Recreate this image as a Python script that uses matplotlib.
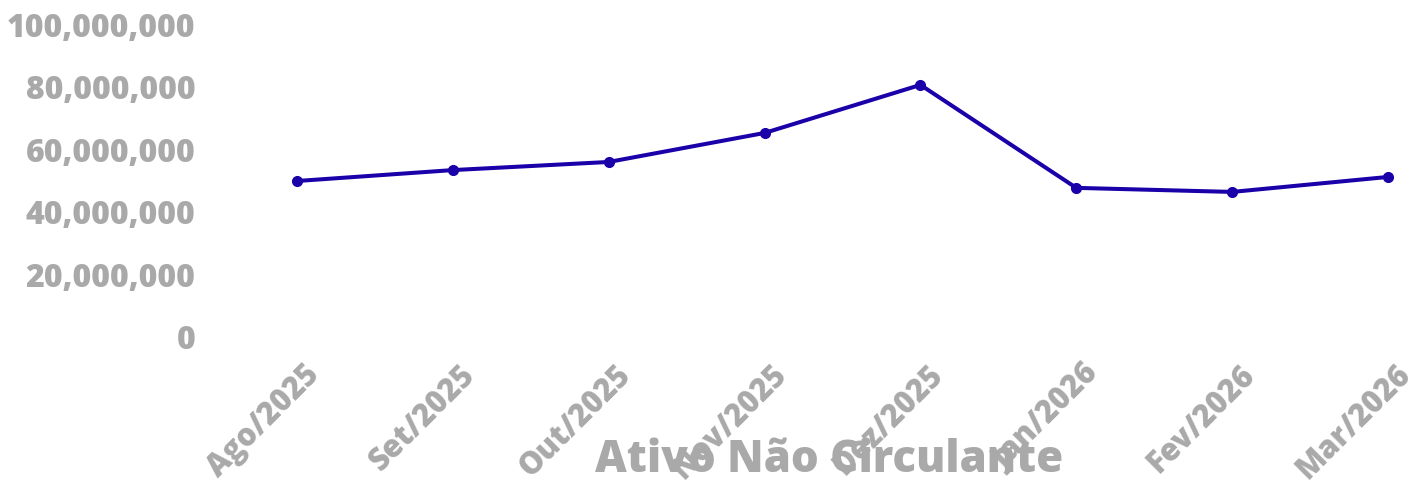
import matplotlib
matplotlib.use("Agg")
import matplotlib.pyplot as plt
import matplotlib.transforms as mtransforms
from matplotlib.ticker import FuncFormatter

MONTHS = ["Ago/2025", "Set/2025", "Out/2025", "Nov/2025",
          "Dez/2025", "Jan/2026", "Fev/2026", "Mar/2026"]
VALUES = [50.0e6, 53.5e6, 56.1e6, 65.4e6, 80.8e6, 47.8e6, 46.5e6, 51.3e6]
Y_TICKS = [0, 20e6, 40e6, 60e6, 80e6, 100e6]
TITLE = "Ativo Não Circulante"

LINE = "#1a00a8"
GRAY = "#a9a9a9"
FONT = "Open Sans"
WEIGHT = 800

fig = plt.figure(figsize=(14.23, 4.84), dpi=100)
ax = fig.add_axes([297 / 1423, 1 - 337 / 484, (1388 - 297) / 1423, (337 - 25) / 484])

xs = list(range(len(MONTHS)))
ax.plot(xs, VALUES, color=LINE, lw=2.9, marker="o", ms=7, zorder=3, clip_on=False)

ax.set_xlim(0, len(MONTHS) - 1)
ax.set_ylim(0, 100e6)
ax.set_yticks(Y_TICKS)
ax.yaxis.set_major_formatter(FuncFormatter(lambda v, p: f"{int(v):,}"))
ax.set_xticks(xs)
ax.set_xticklabels(MONTHS)

for s in ax.spines.values():
    s.set_visible(False)
ax.tick_params(axis="both", length=0)
ax.tick_params(axis="y", pad=73)
ax.tick_params(axis="x", pad=24)

for lab in ax.get_yticklabels():
    lab.set_fontfamily(FONT)
    lab.set_fontweight(WEIGHT)
    lab.set_fontsize(23)
    lab.set_color(GRAY)

shift = mtransforms.ScaledTranslation(18 / 100, 0, fig.dpi_scale_trans)
for lab in ax.get_xticklabels():
    lab.set_fontfamily(FONT)
    lab.set_fontweight(WEIGHT)
    lab.set_fontsize(22)
    lab.set_color(GRAY)
    lab.set_rotation(45)
    lab.set_ha("right")
    lab.set_va("center")
    lab.set_rotation_mode("anchor")
    lab.set_transform(lab.get_transform() + shift)

fig.text(829 / 1423, 1 - 472 / 484, TITLE, ha="center", va="baseline",
         fontfamily=FONT, fontweight=WEIGHT, fontsize=31.5, color=GRAY)

fig.savefig("out.png", dpi=100)
